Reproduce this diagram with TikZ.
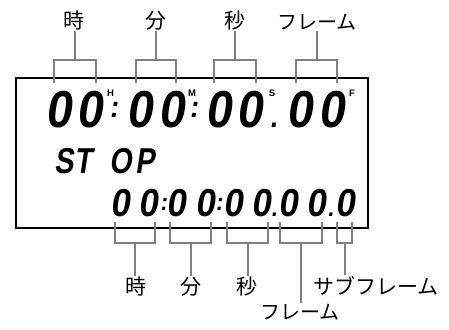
\documentclass[tikz,border=0pt]{standalone}
\usepackage{fontspec}
\newfontfamily\lcdfont[FakeStretch=0.9,FakeSlant=0.15]{Liberation Sans Bold}
\newfontfamily\stopfont[FakeStretch=0.8,FakeSlant=0.15]{Liberation Sans Bold}
\newfontfamily\labfont{Liberation Sans}
\newfontfamily\jpfont{Noto Sans CJK JP}
\definecolor{brkgray}{RGB}{128,128,128}
\begin{document}
\begin{tikzpicture}[x=1pt,y=-1pt,
  brk/.style={draw=brkgray,line width=2pt},
  bigdig/.style={font=\lcdfont\fontsize{52}{52}\selectfont,inner sep=0pt,anchor=base},
  bigsep/.style={font=\lcdfont\fontsize{30}{30}\selectfont,inner sep=0pt,anchor=base},
  middig/.style={font=\stopfont\fontsize{36}{36}\selectfont,inner sep=0pt,anchor=base},
  smalldig/.style={font=\lcdfont\fontsize{39}{39}\selectfont,inner sep=0pt,anchor=base},
  smallsep/.style={font=\lcdfont\fontsize{24}{24}\selectfont,inner sep=0pt,anchor=base},
  suplab/.style={font=\labfont\bfseries\fontsize{9.5}{9.5}\selectfont,inner sep=0pt,anchor=base},
  jplab/.style={font=\jpfont\fontsize{21}{21}\selectfont,inner sep=1pt},
  kanalab/.style={font=\jpfont\fontsize{20}{20}\selectfont,inner sep=1pt}]
\useasboundingbox (0,0) rectangle (449,329);
% LCD frame
\node[draw,line width=2.6pt,minimum width=352pt,minimum height=150pt,inner sep=0pt] (lcd) at (192,153) {};
% top row
\node[bigdig] (th) at (74,127) {0\kern5pt0};
\node[bigsep] (tc1) at (113.5,117.5) {\kern-3pt:\kern-3pt};
\node[bigdig] (tm) at (155.5,127) {0\kern6pt0};
\node[bigsep] (tc2) at (193.5,117.5) {\kern-3pt:\kern-3pt};
\node[bigdig] (ts) at (234,127) {0\kern5pt0};
\node[bigsep] (tp) at (273.5,127) {\kern-2.5pt.\kern-2.5pt};
\node[bigdig] (tf) at (315.5,127) {0\kern6pt0};
\node[suplab] (sH) at (110.5,96.5) {H};
\node[suplab] (sM) at (192,96.5) {M};
\node[suplab] (sS) at (272,96.5) {S};
\node[suplab] (sF) at (352,96.5) {F};
% STOP
\node[middig] (stop) at (105,173) {S\kern0.8ptT\kern17.4ptO\kern3.6ptP};
% bottom row
\node[smalldig] (bh) at (134,216.5) {0\kern8.5pt0};
\node[smallsep] (bc1) at (163.5,210.5) {\kern-2pt:\kern-2pt};
\node[smalldig] (bm) at (190.7,216.5) {0\kern9pt0};
\node[smallsep] (bc2) at (219,210.5) {\kern-2pt:\kern-2pt};
\node[smalldig] (bs) at (247.2,216.5) {0\kern9pt0};
\node[smallsep] (bp1) at (274,216.5) {\kern-2pt.\kern-2pt};
\node[smalldig] (bf) at (302.2,216.5) {0\kern9pt0};
\node[smallsep] (bp2) at (330.5,216.5) {\kern-2pt.\kern-2pt};
\node[smalldig] (bsf) at (345,216.5) {0};
% top labels
\node[jplab,anchor=south] (lt1) at (74,31) {時};
\node[jplab,anchor=south] (lt2) at (156,31) {分};
\node[jplab,anchor=south] (lt3) at (235,31) {秒};
\node[kanalab,anchor=south] (lt4) at (317,31) {フレーム};
% top brackets
\coordinate (t1a) at (54,83); \coordinate (t1b) at (96,83); \coordinate (t1m) at (75,60);
\coordinate (t2a) at (136,83); \coordinate (t2b) at (176,83); \coordinate (t2m) at (156,60);
\coordinate (t3a) at (214,83); \coordinate (t3b) at (256,83); \coordinate (t3m) at (235,60);
\coordinate (t4a) at (296,83); \coordinate (t4b) at (337,83); \coordinate (t4m) at (317,60);
\foreach \i in {1,2,3,4}{
  \draw[brk] (t\i a) |- (t\i m) -| (t\i b);
  \draw[brk] (t\i m) -- (t\i m |- lt\i.south);
}
% bottom labels
\node[jplab,anchor=north] (lb1) at (136,276) {時};
\node[jplab,anchor=north] (lb2) at (191,276) {分};
\node[jplab,anchor=north] (lb3) at (247,276) {秒};
\node[kanalab,anchor=north] (lb4) at (300,303) {フレーム};
\node[jplab,anchor=north] (lb5) at (376,275) {サブフレーム};
% bottom brackets
\coordinate (b1a) at (115,222); \coordinate (b1b) at (155,222); \coordinate (b1m) at (135,243);
\coordinate (b2a) at (170,222); \coordinate (b2b) at (211,222); \coordinate (b2m) at (190.5,243);
\coordinate (b3a) at (227,222); \coordinate (b3b) at (268,222); \coordinate (b3m) at (247.5,243);
\coordinate (b4a) at (280,222); \coordinate (b4b) at (322,222); \coordinate (b4m) at (301,243);
\coordinate (b5a) at (337,222); \coordinate (b5b) at (352,222); \coordinate (b5m) at (344.5,243);
\foreach \i in {1,2,3,4}{
  \draw[brk] (b\i a) |- (b\i m) -| (b\i b);
  \draw[brk] (b\i m) -- (b\i m |- lb\i.north);
}
\draw[brk] (b5a) |- (b5m) -| (b5b);
\draw[brk] (b5m) -- ++(0,32) coordinate (b5e);
\end{tikzpicture}
\end{document}
